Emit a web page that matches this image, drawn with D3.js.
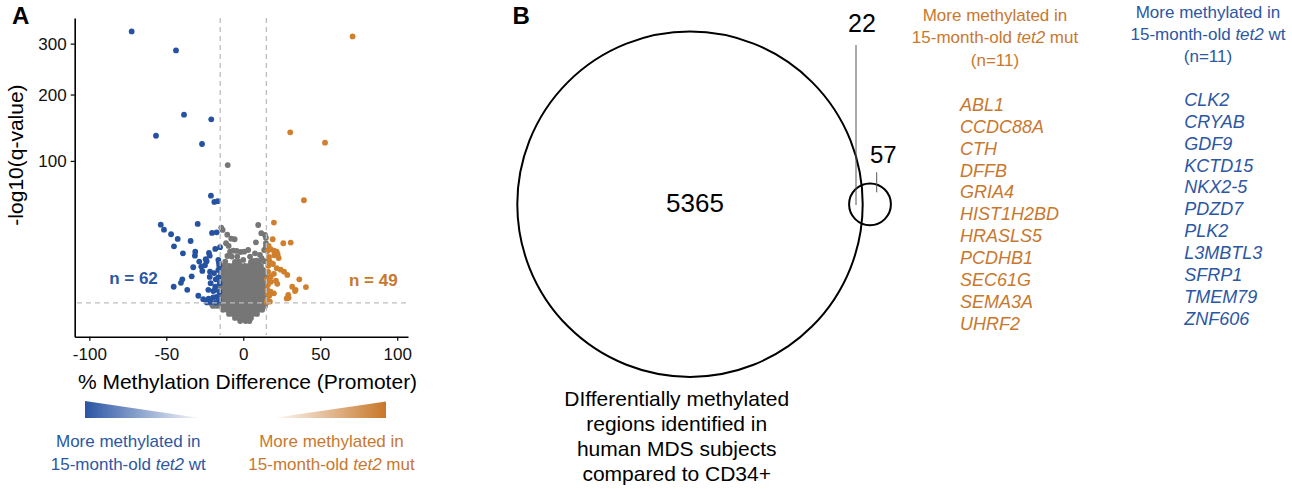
<!DOCTYPE html>
<html>
<head>
<meta charset="utf-8">
<script src="https://cdn.jsdelivr.net/npm/d3@7"></script>
<style>
  body { margin: 0; background: #fff; }
  svg { font-family: "Liberation Sans", Arial, sans-serif; }
</style>
</head>
<body>
<svg id="canvas"></svg>
<script>
// ---- data ----
// [ % methylation difference, -log10(q) ]
let bluePoints = [
  [-72.5, 327], [-43.7, 285.6], [-38.5, 166], [-20.8, 158.6], [-56.7, 133.9], [-26.8, 122.2],
  [-21.0, 61.3], [-18.8, 55.3], [-16.6, 56.0],
  [-53.6, 36.2], [-51.5, 32.6], [-29.6, 36.8], [-46.9, 29.4], [-42.6, 26.3], [-34.2, 25.0], [-45.0, 21.8],
  [-20.3, 30.3], [-17.3, 30.7], [-39.2, 17.9], [-31.2, 18.8], [-22.3, 18.1], [-21.8, 16.7], [-18.2, 20.3], [-15.1, 21.3],
  [-28.6, 13.8], [-23.8, 14.0], [-32.5, 11.3], [-27.3, 11.6], [-26.6, 9.8], [-16.2, 14.6], [-15.6, 11.9],
  [-33.5, 7.8], [-39.6, 6.8], [-40.5, 5.7], [-45.2, 4.6], [-36.4, 3.8], [-21.8, 7.6], [-17.9, 6.8], [-16.2, 7.4],
  [-21.2, 5.6], [-22.7, 3.8], [-18.4, 3.8], [-19.5, 3.5], [-29.2, 2.5], [-26.0, 1.87], [-22.5, 1.97], [-19.5, 2.2], [-17.3, 2.3],
  [-18.2, 4.6], [-15.3, 5.6], [-21.6, 9.5], [-16.2, 10.2], [-24.4, 14.9], [-31.4, 16.7], [-15.8, 1.75], [-21.0, 1.43],
  [-17.7, 1.35], [-23.6, 1.36], [-15.5, 3.3], [-15.8, 13.2], [-24.9, 12.2], [-19.0, 9.0]
];
let orangePoints = [
  [71.0, 315.9], [30.5, 138.9], [53.1, 124], [39.4, 56.9], [19.9, 37.8], [19.1, 26.1], [26.0, 23.6], [30.8, 24.0],
  [16.5, 22.0], [17.8, 20.1], [19.9, 19.3], [21.7, 18.8], [22.3, 17.4], [20.1, 16.9], [16.9, 14.1], [18.6, 13.0],
  [16.2, 11.9], [24.3, 10.3], [28.6, 8.3], [16.2, 9.4], [17.8, 7.7], [15.4, 6.8], [36.4, 6.8], [21.2, 6.4], [22.1, 5.4],
  [31.8, 4.6], [34.0, 3.8], [40.7, 4.5], [15.6, 3.8], [17.8, 3.4], [19.9, 3.0], [16.9, 2.5], [28.2, 2.0],
  [29.5, 2.1], [15.6, 1.75], [17.3, 1.48], [19.3, 12.7], [33.6, 3.5], [29.2, 2.67], [16.0, 5.1], [18.0, 6.0],
  [16.7, 16.0], [15.7, 19.1], [21.7, 10.9], [19.9, 8.7], [15.3, 1.4], [23.0, 15.5], [26.5, 9.5], [15.8, 2.9]
];
let grayPoints = [
  [-10.1, 94.9], [-14.3, 34.0], [-13.4, 32.4], [-10.4, 29.1], [-7.8, 26.5], [-5.6, 26.1], [9.7, 36.0], [11.7, 30.1],
  [14.1, 28.9], [14.7, 27.1], [8.2, 24.2], [-11.2, 23.6], [-9.5, 22.0], [-4.3, 19.2], [-1.7, 18.6], [0.6, 18.8],
  [3.2, 19.7], [-8.6, 18.8], [-6.5, 19.3], [-10.3, 16.5], [-7.5, 16.2], [-3.9, 16.2], [4.4, 16.2], [7.6, 17.9],
  [10.8, 17.1], [13.6, 19.7], [14.7, 21.6], [14.7, 23.6], [-3.2, 13.8], [0, 14.6], [-11.7, 13.8], [6.5, 14.1],
  [8.7, 14.2], [11.9, 15.4], [-14.5, 9.4], [-12.6, 12.0], [13.8, 14.0]
];
// dense non-significant cloud, one row per -log10(q) level
let grayCloudRows = [
  [13.6, [-5.4, -2.8, 5.0, 7.6, 10.2]],
  [11.9, [-9.3, -6.7, -4.1, -1.5, 1.1, 3.7, 6.3, 8.9, 11.5]],
  [10.2, [-13.2, -10.6, -8.0, -5.4, -2.8, -0.2, 2.4, 5.0, 7.6, 10.2, 12.8]],
  [8.7, [-14.5, -11.9, -9.3, -6.7, -4.1, -1.5, 1.1, 3.7, 6.3, 8.9, 11.5, 14.1]],
  [7.3, [-14.8, -13.2, -10.6, -8.0, -5.4, -2.8, -0.2, 2.4, 5.0, 7.6, 10.2, 12.8, 14.8]],
  [6.0, [-14.5, -11.9, -9.3, -6.7, -4.1, -1.5, 1.1, 3.7, 6.3, 8.9, 11.5, 14.1]],
  [4.8, [-14.8, -13.2, -10.6, -8.0, -5.4, -2.8, -0.2, 2.4, 5.0, 7.6, 10.2, 12.8, 14.8]],
  [3.8, [-14.5, -11.9, -9.3, -6.7, -4.1, -1.5, 1.1, 3.7, 6.3, 8.9, 11.5, 14.1]],
  [2.9, [-14.8, -13.2, -10.6, -8.0, -5.4, -2.8, -0.2, 2.4, 5.0, 7.6, 10.2, 12.8, 14.8]],
  [2.1, [-14.5, -11.9, -9.3, -6.7, -4.1, -1.5, 1.1, 3.7, 6.3, 8.9, 11.5, 14.1]],
  [1.43, [-14.8, -13.2, -10.6, -8.0, -5.4, -2.8, -0.2, 2.4, 5.0, 7.6, 10.2, 12.8, 14.8]],
  [1.15, [-20.5, -18.0, -16.0]],
  [0.9, [-19.7, -17.1, -14.5, -11.9, -9.3, -6.7, -4.1, -1.5, 1.1, 3.7, 6.3, 8.9, 11.5, 14.1]],
  [0.49, [-13.2, -10.6, -8.0, -5.4, -2.8, -0.2, 2.4, 5.0, 7.6, 10.2, 12.3]],
  [0.2, [-9.3, -6.7, -4.1, -1.5, 1.1, 3.7, 6.3, 8.9]],
  [0.04, [-5.4, -2.8, -0.2, 2.4, 5.0]],
  [0.0, [-2.0, 1.5, 4.0]]
];
let xTicks = [-100, -50, 0, 50, 100];
let yTicks = [100, 200, 300];
let diffCutoffs = [-15, 15];
let qCutoff = 1.3;
let groupCounts = { wt: "n = 62", mut: "n = 49" };

let vennCounts = { mdsOnly: 5365, overlap: 22, zebraOnly: 57 };
let vennFooter = ["DIfferentially methylated", "regions identified in", "human MDS subjects", "compared to CD34+"];
let mutGenes = ["ABL1", "CCDC88A", "CTH", "DFFB", "GRIA4", "HIST1H2BD", "HRASLS5", "PCDHB1", "SEC61G", "SEMA3A", "UHRF2"];
let wtGenes = ["CLK2", "CRYAB", "GDF9", "KCTD15", "NKX2-5", "PDZD7", "PLK2", "L3MBTL3", "SFRP1", "TMEM79", "ZNF606"];

// ---- styling ----
let width = 1292;
let height = 489;
let blue = "#2552a1";
let orange = "#d07f2c";
let gray = "#767676";
let blueText = "#2c57a3";
let orangeText = "#c8782e";

let canvas = d3.select("#canvas").attr("width", width).attr("height", height);

// ---- panel A: volcano plot ----
let xScale = d3.scaleLinear().domain([-109.5, 107]).range([74.7, 408]);
let yScale = d3.scalePow().exponent(0.5).domain([-0.95, 358]).range([336.7, 18]);

let grayCloud = [];
grayCloudRows.forEach(([q, xs]) => xs.forEach((x) => grayCloud.push([x, q])));

let plot = canvas.append("g");
let drawDots = (data, color) => {
  plot.append("g")
    .selectAll("circle")
    .data(data)
    .enter()
    .append("circle")
    .attr("cx", (d) => xScale(d[0]))
    .attr("cy", (d) => yScale(d[1]))
    .attr("r", 2.9)
    .attr("fill", color);
};
drawDots(grayCloud, gray);
drawDots(grayPoints, gray);
drawDots(bluePoints, blue);
drawDots(orangePoints, orange);

// cutoff lines sit on top of the points
plot.selectAll(".vcut")
  .data(diffCutoffs)
  .enter()
  .append("line")
  .attr("x1", (d) => xScale(d))
  .attr("x2", (d) => xScale(d))
  .attr("y1", 18)
  .attr("y2", 335)
  .attr("stroke", "#bdbdbd")
  .attr("stroke-width", 1.3)
  .attr("stroke-dasharray", "5,4");
plot.append("line")
  .attr("x1", 77)
  .attr("x2", 407)
  .attr("y1", yScale(qCutoff))
  .attr("y2", yScale(qCutoff))
  .attr("stroke", "#bdbdbd")
  .attr("stroke-width", 1.3)
  .attr("stroke-dasharray", "5,4");

let xAxis = d3.axisBottom(xScale).tickValues(xTicks).tickFormat((d) => String(d))
  .tickSize(4).tickSizeOuter(0).tickPadding(7);
let yAxis = d3.axisLeft(yScale).tickValues(yTicks).tickFormat((d) => String(d))
  .tickSize(4).tickSizeOuter(0).tickPadding(4);

let gx = canvas.append("g").attr("transform", "translate(0, 336.7)").call(xAxis);
let gy = canvas.append("g").attr("transform", "translate(74.7, 0)").call(yAxis);
[gx, gy].forEach((g) => {
  g.select(".domain").attr("stroke", "#000").attr("stroke-width", 1.6);
  g.selectAll(".tick line").attr("stroke", "#000").attr("stroke-width", 1.2);
  g.selectAll(".tick text").attr("fill", "#111").style("font-size", "17px")
    .style("font-family", "'Liberation Sans', Arial, sans-serif");
});

canvas.append("text")
  .attr("transform", "translate(23, 155) rotate(-90)")
  .attr("text-anchor", "middle")
  .style("font-size", "21px")
  .text("-log10(q-value)");
canvas.append("text")
  .attr("x", 247.5).attr("y", 389.3)
  .attr("text-anchor", "middle")
  .style("font-size", "21px")
  .text("% Methylation Difference (Promoter)");

canvas.append("text").attr("x", 133.5).attr("y", 284).attr("text-anchor", "middle")
  .attr("fill", blueText).style("font-size", "17px").style("font-weight", "bold").text(groupCounts.wt);
canvas.append("text").attr("x", 373.3).attr("y", 286).attr("text-anchor", "middle")
  .attr("fill", orangeText).style("font-size", "17px").style("font-weight", "bold").text(groupCounts.mut);

// direction wedges
let defs = canvas.append("defs");
let gb = defs.append("linearGradient").attr("id", "gradBlue");
gb.append("stop").attr("offset", "0%").attr("stop-color", "#2a55a3");
gb.append("stop").attr("offset", "100%").attr("stop-color", "#2a55a3").attr("stop-opacity", 0.03);
let go = defs.append("linearGradient").attr("id", "gradOrange");
go.append("stop").attr("offset", "0%").attr("stop-color", "#c8772a").attr("stop-opacity", 0.03);
go.append("stop").attr("offset", "100%").attr("stop-color", "#c8772a");

canvas.append("polygon").attr("points", "85,401 200,418 85,418").attr("fill", "url(#gradBlue)");
canvas.append("polygon").attr("points", "273,418 386,401.5 386,418").attr("fill", "url(#gradOrange)");

let twoLine = (cx, y0, color, tail) => {
  canvas.append("text").attr("x", cx).attr("y", y0).attr("text-anchor", "middle")
    .attr("fill", color).style("font-size", "17px").text("More methylated in");
  let t = canvas.append("text").attr("x", cx).attr("y", y0 + 22.7).attr("text-anchor", "middle")
    .attr("fill", color).style("font-size", "17px");
  t.append("tspan").text("15-month-old ");
  t.append("tspan").style("font-style", "italic").text("tet2");
  t.append("tspan").text(" " + tail);
  return t;
};
twoLine(128.3, 447.3, blueText, "wt");
twoLine(331.5, 447.3, orangeText, "mut");

canvas.append("text").attr("x", 12).attr("y", 24).style("font-size", "24px").style("font-weight", "bold").text("A");
canvas.append("text").attr("x", 512.5).attr("y", 23.5).style("font-size", "24px").style("font-weight", "bold").text("B");

// ---- panel B: Venn diagram ----
let rScale = d3.scaleSqrt()
  .domain([0, vennCounts.mdsOnly + vennCounts.overlap])
  .range([0, 172.7]);
let venn = [
  { cx: 690, cy: 204.2, n: vennCounts.mdsOnly + vennCounts.overlap },
  { cx: 870, cy: 204.3, n: vennCounts.overlap + vennCounts.zebraOnly }
];
canvas.append("g")
  .selectAll("circle")
  .data(venn)
  .enter()
  .append("circle")
  .attr("cx", (d) => d.cx)
  .attr("cy", (d) => d.cy)
  .attr("r", (d) => rScale(d.n))
  .attr("fill", "none")
  .attr("stroke", "#000")
  .attr("stroke-width", 2);

canvas.append("text").attr("x", 695).attr("y", 212).attr("text-anchor", "middle")
  .style("font-size", "26px").text(vennCounts.mdsOnly);
canvas.append("text").attr("x", 862).attr("y", 31.7).attr("text-anchor", "middle")
  .style("font-size", "25px").text(vennCounts.overlap);
canvas.append("text").attr("x", 883.3).attr("y", 163.3).attr("text-anchor", "middle")
  .style("font-size", "24px").text(vennCounts.zebraOnly);
canvas.append("line").attr("x1", 856).attr("x2", 856).attr("y1", 45).attr("y2", 205)
  .attr("stroke", "#555").attr("stroke-width", 1);
canvas.append("line").attr("x1", 876.7).attr("x2", 876.7).attr("y1", 172.3).attr("y2", 192.3)
  .attr("stroke", "#555").attr("stroke-width", 1);

canvas.append("g")
  .selectAll("text")
  .data(vennFooter)
  .enter()
  .append("text")
  .attr("x", 676.7)
  .attr("y", (d, i) => 405.5 + i * 25.2)
  .attr("text-anchor", "middle")
  .style("font-size", "21px")
  .text((d) => d);

// ---- gene lists ----
let header = (cx, ys, color, tail) => {
  canvas.append("text").attr("x", cx).attr("y", ys[0]).attr("text-anchor", "middle")
    .attr("fill", color).style("font-size", "17px").text("More methylated in");
  let t = canvas.append("text").attr("x", cx).attr("y", ys[1]).attr("text-anchor", "middle")
    .attr("fill", color).style("font-size", "17px");
  t.append("tspan").text("15-month-old ");
  t.append("tspan").style("font-style", "italic").text("tet2");
  t.append("tspan").text(" " + tail);
  canvas.append("text").attr("x", cx).attr("y", ys[2]).attr("text-anchor", "middle")
    .attr("fill", color).style("font-size", "17px").text("(n=11)");
};
header(995, [20.5, 42.5, 66], orangeText, "mut");
header(1208, [18.3, 39.6, 62], blueText, "wt");

let geneList = (genes, x, y0, color) => {
  canvas.append("g")
    .selectAll("text")
    .data(genes)
    .enter()
    .append("text")
    .attr("x", x)
    .attr("y", (d, i) => y0 + i * 21.85)
    .attr("fill", color)
    .style("font-size", "18px")
    .style("font-style", "italic")
    .text((d) => d);
};
geneList(mutGenes, 960, 111, orangeText);
geneList(wtGenes, 1184.3, 106, blueText);
</script>
</body>
</html>
